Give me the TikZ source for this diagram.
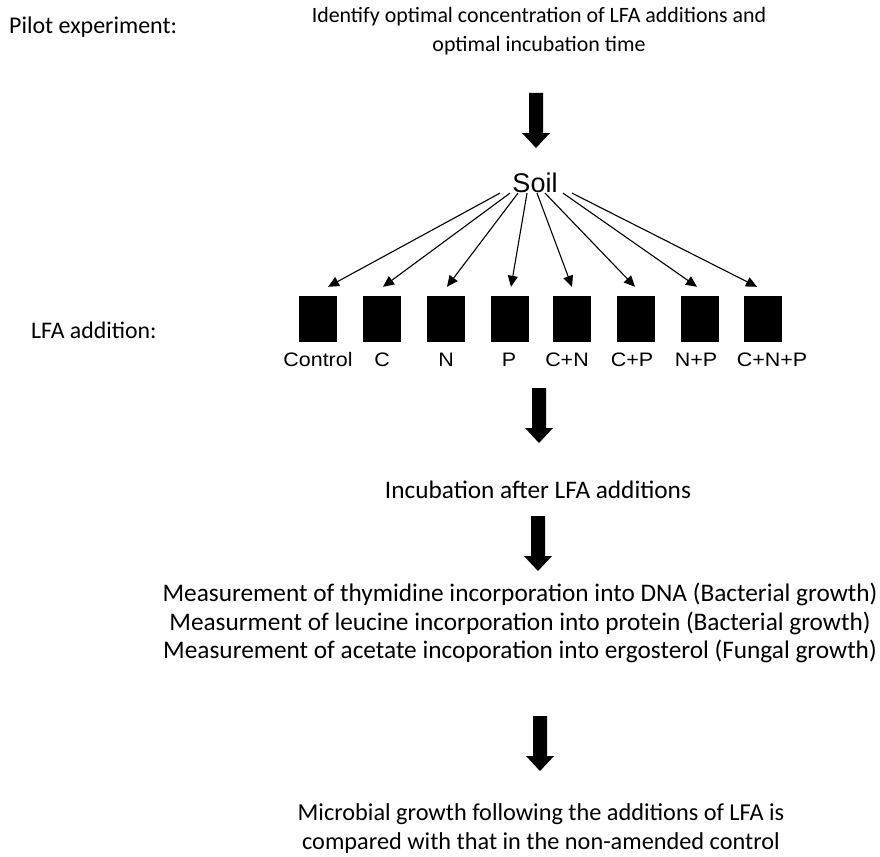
\documentclass[tikz,border=0pt]{standalone}
\usepackage{fontspec}
\setmainfont{Carlito}
\newfontfamily\arialf{Liberation Sans}
\usetikzlibrary{arrows.meta}
\newcommand{\wlbl}[1]{\scalebox{1.1}[1]{#1}}
\begin{document}
\begin{tikzpicture}[x=1pt,y=-1pt,
  txt/.style={inner sep=0pt, align=center, font=\fontsize{25.3}{29}\selectfont},
  boxlbl/.style={inner sep=0pt, font=\arialf\fontsize{19.5}{20}\selectfont},
  soilbox/.style={fill=black, draw=none, minimum width=38pt, minimum height=46pt, inner sep=0pt},
  thin/.style={line width=1.1pt, -{Triangle[length=11pt,width=10pt]}},
  fatarrow/.pic={\fill[black] (-7,0) -- (7,0) -- (7,40) -- (14,40) -- (0,55) -- (-14,40) -- (-7,40) -- cycle;}
]
\useasboundingbox (0,0) rectangle (880,856);

\node[txt, anchor=west, font=\fontsize{24}{29}\selectfont] (pilot) at (9,27) {Pilot experiment:};
\node[txt, font=\fontsize{21.9}{29}\selectfont] (title) at (539,31) {Identify optimal concentration of LFA additions and\\optimal incubation time};
\node[txt, anchor=base west, font=\fontsize{23.8}{29}\selectfont] (lfa) at (31,338) {LFA addition:};

\pic at (536,93) {fatarrow};

\node[inner sep=0pt, font=\arialf\fontsize{27}{29}\selectfont] (soil) at (535,183) {Soil};

\foreach \n/\x/\lx/\l in {1/318/318/Control,2/382/382/C,3/446/446/N,4/510/509/P,5/572/567/C+N,6/636/632/C+P,7/700/696/N+P,8/763/772/C+N+P}{
  \node[soilbox] (b\n) at (\x,319) {};
  \node[boxlbl] (l\n) at (\lx,360) {\wlbl{\l}};
}

\foreach \n/\sx/\bx/\tx in {1/500/318/328,2/510/382/383,3/518/446/447,4/527/510/511,5/537/572/572,6/545/636/635,7/563/700/697,8/572/763/757}{
  \pgfmathsetmacro{\dsx}{\sx-535}
  \pgfmathsetmacro{\dtx}{\tx-\bx}
  \draw[thin] ([xshift=\dsx pt]soil.south) -- ([xshift=\dtx pt,yshift=9pt]b\n.north);
}

\pic at (539,388) {fatarrow};
\node[txt] (incub) at (538,490) {Incubation after LFA additions};
\pic at (538,516) {fatarrow};
\node[txt, font=\fontsize{25.3}{28.5}\selectfont] (meas) at (520,623) {Measurement of thymidine incorporation into DNA (Bacterial growth)\\Measurment of leucine incorporation into protein (Bacterial growth)\\Measurement of acetate incoporation into ergosterol (Fungal growth)};
\pic at (540,716) {fatarrow};
\node[txt, font=\fontsize{24.3}{29}\selectfont] (final) at (541,829) {Microbial growth following the additions of LFA is\\compared with that in the non-amended control};
\end{tikzpicture}
\end{document}
